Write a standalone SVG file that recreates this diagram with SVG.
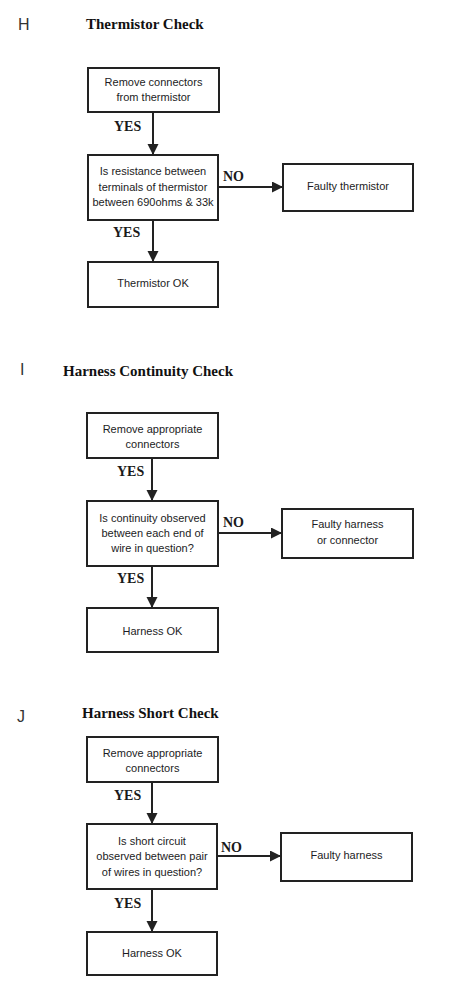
<svg xmlns="http://www.w3.org/2000/svg" width="451" height="998" viewBox="0 0 451 998">
<style>
.bg{fill:#ffffff}
.box{fill:#ffffff;stroke:#222222;stroke-width:2}
.t{font-family:"Liberation Sans",Arial,sans-serif;font-size:11px;fill:#1c1c24;text-anchor:middle}
.lbl{font-family:"Liberation Serif","Times New Roman",serif;font-size:14px;font-weight:bold;fill:#1a1a1a}
.title{font-family:"Liberation Serif","Times New Roman",serif;font-size:15px;font-weight:bold;fill:#111111}
.letter{font-family:"Liberation Sans",Arial,sans-serif;font-size:16px;fill:#333333}
.conn{stroke:#222222;stroke-width:2;fill:none;marker-end:url(#arr)}
</style>
<defs>
<marker id="arr" markerUnits="userSpaceOnUse" markerWidth="12" markerHeight="12" refX="11" refY="5.5" orient="auto">
<path d="M0,0 L11,5.5 L0,11 z" fill="#222222"/>
</marker>
</defs>
<rect class="bg" x="0" y="0" width="451" height="998"/>

<g id="headings">
<text class="letter" x="18" y="30">H</text>
<text class="title" x="86" y="29">Thermistor Check</text>
<text class="letter" x="20" y="375">I</text>
<text class="title" x="63" y="376">Harness Continuity Check</text>
<text class="letter" x="17" y="722">J</text>
<text class="title" x="82" y="718">Harness Short Check</text>
</g>

<g id="connectors">
<line class="conn" x1="153" y1="112" x2="153" y2="155"/>
<line class="conn" x1="218" y1="187" x2="283" y2="187"/>
<line class="conn" x1="153" y1="220" x2="153" y2="262"/>
<line class="conn" x1="152" y1="458" x2="152" y2="501"/>
<line class="conn" x1="218" y1="533" x2="282" y2="533"/>
<line class="conn" x1="152" y1="566" x2="152" y2="608"/>
<line class="conn" x1="152" y1="782" x2="152" y2="824"/>
<line class="conn" x1="217" y1="856" x2="281" y2="856"/>
<line class="conn" x1="152" y1="889" x2="152" y2="932"/>
</g>

<g id="labels">
<text class="lbl" x="114" y="131">YES</text>
<text class="lbl" x="223" y="181">NO</text>
<text class="lbl" x="113" y="237">YES</text>
<text class="lbl" x="117" y="476">YES</text>
<text class="lbl" x="223" y="527">NO</text>
<text class="lbl" x="117" y="583">YES</text>
<text class="lbl" x="114" y="800">YES</text>
<text class="lbl" x="221" y="852">NO</text>
<text class="lbl" x="114" y="908">YES</text>
</g>

<g id="h1">
<rect class="box" x="88" y="68" width="131" height="44"/>
<text class="t" x="153.5" y="86">Remove connectors</text>
<text class="t" x="153.5" y="101">from thermistor</text>
</g>
<g id="h2">
<rect class="box" x="88" y="155" width="130" height="65"/>
<text class="t" x="153" y="175">Is resistance between</text>
<text class="t" x="153" y="191">terminals of thermistor</text>
<text class="t" x="153" y="206">between 690ohms &amp; 33k</text>
</g>
<g id="h3">
<rect class="box" x="283" y="164" width="130" height="47"/>
<text class="t" x="348" y="190">Faulty thermistor</text>
</g>
<g id="h4">
<rect class="box" x="88" y="262" width="130" height="45"/>
<text class="t" x="153" y="287">Thermistor OK</text>
</g>

<g id="i1">
<rect class="box" x="87" y="413" width="131" height="45"/>
<text class="t" x="152.5" y="433">Remove appropriate</text>
<text class="t" x="152.5" y="448">connectors</text>
</g>
<g id="i2">
<rect class="box" x="87" y="501" width="131" height="65"/>
<text class="t" x="152.5" y="522">Is continuity observed</text>
<text class="t" x="152.5" y="537">between each end of</text>
<text class="t" x="152.5" y="552">wire in question?</text>
</g>
<g id="i3">
<rect class="box" x="282" y="509" width="131" height="49"/>
<text class="t" x="347.5" y="528">Faulty harness</text>
<text class="t" x="347.5" y="544">or connector</text>
</g>
<g id="i4">
<rect class="box" x="87" y="608" width="131" height="44"/>
<text class="t" x="152.5" y="635">Harness OK</text>
</g>

<g id="j1">
<rect class="box" x="87" y="737" width="131" height="45"/>
<text class="t" x="152.5" y="757">Remove appropriate</text>
<text class="t" x="152.5" y="772">connectors</text>
</g>
<g id="j2">
<rect class="box" x="87" y="824" width="130" height="65"/>
<text class="t" x="152" y="845">Is short circuit</text>
<text class="t" x="152" y="860">observed between pair</text>
<text class="t" x="152" y="876">of wires in question?</text>
</g>
<g id="j3">
<rect class="box" x="281" y="833" width="131" height="48"/>
<text class="t" x="346.5" y="859">Faulty harness</text>
</g>
<g id="j4">
<rect class="box" x="87" y="932" width="130" height="43"/>
<text class="t" x="152" y="957">Harness OK</text>
</g>
</svg>
